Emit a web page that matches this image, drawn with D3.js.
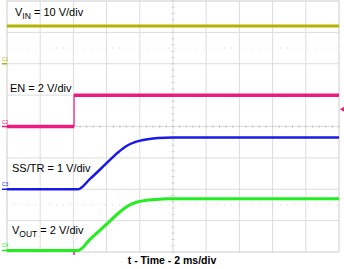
<!DOCTYPE html>
<html><head><meta charset="utf-8">
<script src="https://cdn.jsdelivr.net/npm/d3@7"></script>
<style>body{margin:0;background:#fff}svg{display:block}text{font-family:Arial,"Liberation Sans",sans-serif}</style>
</head><body><svg id="c" width="344" height="269"></svg>
<script>
// Time axis in ms (2 ms/div, 10 divisions)
const xDomain = [-10, 10];
const yDivs = [-4, 4];
// Channels: name, V/div, ground offset (div), colour
const channels = [
  {id:"C1", label:"V", sub:"IN", rest:" = 10 V/div", vdiv:10, offset:2, color:"#b3b300", width:3},
  {id:"C2", label:"EN = 2 V/div", sub:null, rest:"", vdiv:2, offset:0, color:"#ee1a80", width:3.5},
  {id:"C3", label:"SS/TR = 1 V/div", sub:null, rest:"", vdiv:1, offset:-2, color:"#1a1ae8", width:2.5},
  {id:"C4", label:"V", sub:"OUT", rest:" = 2 V/div", vdiv:2, offset:-3.95, color:"#22ee22", width:3}
];
// Waveform samples [time ms, volts]
const vinData = [[-10,12],[10,12]];
const enData = [[-10,0],[-5.96,0],[-5.96,2],[10,2]];
const ssData = [[-10,0],[-5.72,0],[-5.0,0.33],[-4.0,0.83],[-3.3,1.18],[-2.8,1.38],[-2.3,1.50],[-1.8,1.57],[-1.2,1.62],[-0.5,1.645],[0,1.65],[10,1.65]];
const voutData = [[-10,0],[-5.72,0],[-5.0,0.7],[-4.0,1.68],[-3.2,2.45],[-2.7,2.85],[-2.2,3.07],[-1.7,3.18],[-1.0,3.25],[-0.3,3.29],[0.5,3.3],[10,3.3]];
const series = [vinData, enData, ssData, voutData];
const xLabel = "t - Time - 2 ms/div";

const svg = d3.select("#c");
const L=7, R=339, T=1, B=252;
const x = d3.scaleLinear().domain(xDomain).range([L,R]);
const y = d3.scaleLinear().domain(yDivs).range([B,T]);

const g = svg.append("g");
// grid
d3.range(-8,9,2).forEach(t=>{ g.append("line").attr("x1",x(t)).attr("x2",x(t)).attr("y1",T).attr("y2",B).attr("stroke","#dcdcdc").attr("stroke-width",1); });
d3.range(-3,4,1).forEach(d=>{ g.append("line").attr("x1",L).attr("x2",R).attr("y1",y(d)).attr("y2",y(d)).attr("stroke","#dcdcdc").attr("stroke-width",1); });
// faint dotted reference lines
[2.5,-2.5].forEach(d=>{ g.append("line").attr("x1",L).attr("x2",R).attr("y1",y(d)).attr("y2",y(d)).attr("stroke","#d8d8d8").attr("stroke-dasharray","1,6"); });
// minor ticks on centre lines
d3.range(-10,10.01,0.4).forEach(t=>{ g.append("line").attr("x1",x(t)).attr("x2",x(t)).attr("y1",y(0)-1.5).attr("y2",y(0)+1.5).attr("stroke","#cfcfcf"); });
d3.range(-4,4.01,0.2).forEach(d=>{ g.append("line").attr("x1",x(0)-1.5).attr("x2",x(0)+1.5).attr("y1",y(d)).attr("y2",y(d)).attr("stroke","#cfcfcf"); });
// border
g.append("rect").attr("x",L).attr("y",T).attr("width",R-L).attr("height",B-T).attr("fill","none").attr("stroke","#cccccc").attr("stroke-width",1);

// traces
channels.forEach((ch,i)=>{
  const yv = d=>y(ch.offset + d[1]/ch.vdiv);
  const data = series[i];
  if(i===1){
    // step: thin full path, thick horizontal runs
    svg.append("path").attr("d",d3.line().x(d=>x(d[0])).y(yv)(data)).attr("fill","none").attr("stroke",ch.color).attr("stroke-width",1.2);
    for(let k=0;k<data.length-1;k++){
      if(data[k][1]===data[k+1][1]) svg.append("path").attr("d",d3.line().x(d=>x(d[0])).y(yv)([data[k],data[k+1]])).attr("fill","none").attr("stroke",ch.color).attr("stroke-width",ch.width);
    }
  } else {
    const line = d3.line().x(d=>x(d[0])).y(yv).curve(i>=2?d3.curveMonotoneX:d3.curveLinear);
    svg.append("path").attr("d",line(data)).attr("fill","none").attr("stroke",ch.color).attr("stroke-width",ch.width);
  }
  // ground marker
  const gy = y(ch.offset);
  svg.append("line").attr("x1",2).attr("x2",L).attr("y1",gy).attr("y2",gy).attr("stroke",ch.color).attr("stroke-width",1.5);
  svg.append("text").attr("x",2).attr("y",gy-3).attr("font-size",5).attr("fill",ch.color).text(ch.id);
});
// trigger markers
svg.append("path").attr("d",`M${R+1},${y(0.55)} l4,-2.5 l0,5 z`).attr("fill","#ee1a80");
svg.append("line").attr("x1",x(-5.96)).attr("x2",x(-5.96)).attr("y1",B).attr("y2",B+3).attr("stroke","#ee1a80").attr("stroke-width",1.5);

// labels
const labelPos = [[15,16],[10,92],[12,172],[12,234]];
channels.forEach((ch,i)=>{
  const t = svg.append("text").attr("x",labelPos[i][0]).attr("y",labelPos[i][1]).attr("font-size",11).attr("fill","#000");
  t.append("tspan").text(ch.label);
  if(ch.sub){ t.append("tspan").attr("dy",3).attr("font-size",8.5).text(ch.sub); t.append("tspan").attr("dy",-3).text(ch.rest); }
});
svg.append("text").attr("x",172).attr("y",264).attr("text-anchor","middle").attr("font-size",10.5).attr("font-weight","bold").text(xLabel);
</script></body></html>
